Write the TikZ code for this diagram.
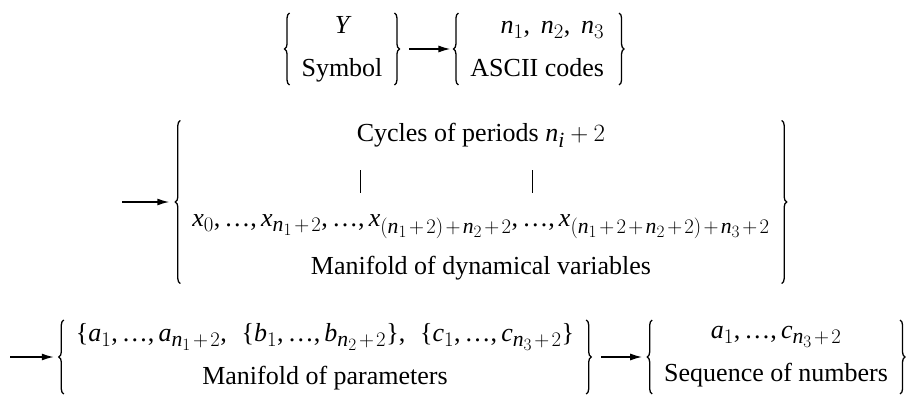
\documentclass[tikz,border=0pt]{standalone}
\usepackage{fontspec}
\setmainfont{Liberation Serif}
\usepackage[italic]{mathastext}
\usetikzlibrary{arrows.meta,positioning,decorations.pathreplacing}
\newcommand{\plusgap}{\mskip2mu{+}\mskip2mu}
\newcommand{\dotsgap}{,\mbox{…},}
\tikzset{
  setArrow/.style={-{Latex[length=12pt,width=7pt]}, line width=1.5pt},
  setGroup/.style={inner xsep=17pt, inner ysep=0pt, outer sep=0pt, align=center},
  setBrace/.style={decorate, decoration={brace, amplitude=5pt}, line width=1.3pt},
  setBar/.style={line width=1pt}
}

\begin{document}
\begin{tikzpicture}[x=1pt, y=-1pt, font=\fontsize{26}{31}\selectfont]
  \useasboundingbox (0,0) rectangle (908,394);

  % first row: symbol and its codes
  \node[setGroup, minimum height=72pt, font=\fontsize{26}{43}\selectfont] (symbol) at (342,49)
    {$Y$\\Symbol};
  \node[setGroup, minimum height=72pt, align=right, font=\fontsize{26}{43}\selectfont,
        right=54pt of symbol] (codes)
    {$n_1,\ n_2,\ n_3$\hspace*{3pt}\\ASCII codes\hspace*{3pt}};

  % second row: dynamical variables
  \node[setGroup, minimum height=163pt, font=\fontsize{26}{48}\selectfont] (dynvars) at (481,202)
    {Cycles of periods $n_i+2$\\[37pt]
     $x_0\dotsgap x_{n_1\plusgap 2}\dotsgap x_{(n_1\plusgap 2)\plusgap n_2\plusgap 2}\dotsgap
      x_{(n_1\plusgap 2\plusgap n_2\plusgap 2)\plusgap n_3\plusgap 2}$\\
     Manifold of dynamical variables};
  \coordinate (dynIn) at (122,202);
  \foreach \bx in {360,532}
    \draw[setBar] (\bx,170) -- (\bx,193);

  % third row: parameters and numbers
  \node[setGroup, minimum height=74pt, font=\fontsize{26}{43}\selectfont] (params) at (325,357)
    {$\{a_1\dotsgap a_{n_1\plusgap 2},\ \,\{b_1\dotsgap b_{n_2\plusgap 2}\},\ \,\{c_1\dotsgap c_{n_3\plusgap 2}\}$\\
     Manifold of parameters};
  \coordinate (parIn) at (10,357);
  \node[setGroup, minimum height=74pt, font=\fontsize{26}{43}\selectfont,
        right=56pt of params] (numbers)
    {$a_1\dotsgap c_{n_3\plusgap 2}$\\Sequence of numbers};

  % braces round every group
  \foreach \grp in {symbol,codes,dynvars,params,numbers} {
    \draw[setBrace] ([xshift=5pt]\grp.south west) -- ([xshift=5pt]\grp.north west);
    \draw[setBrace] ([xshift=-5pt]\grp.north east) -- ([xshift=-5pt]\grp.south east);
  }

  \draw[setArrow, shorten <=10pt, shorten >=3pt] (symbol) -- (codes);
  \draw[setArrow, shorten >=6pt] (dynIn) -- (dynvars);
  \draw[setArrow, shorten >=5pt] (parIn) -- (params);
  \draw[setArrow, shorten <=10pt, shorten >=5pt] (params) -- (numbers);
\end{tikzpicture}
\end{document}
